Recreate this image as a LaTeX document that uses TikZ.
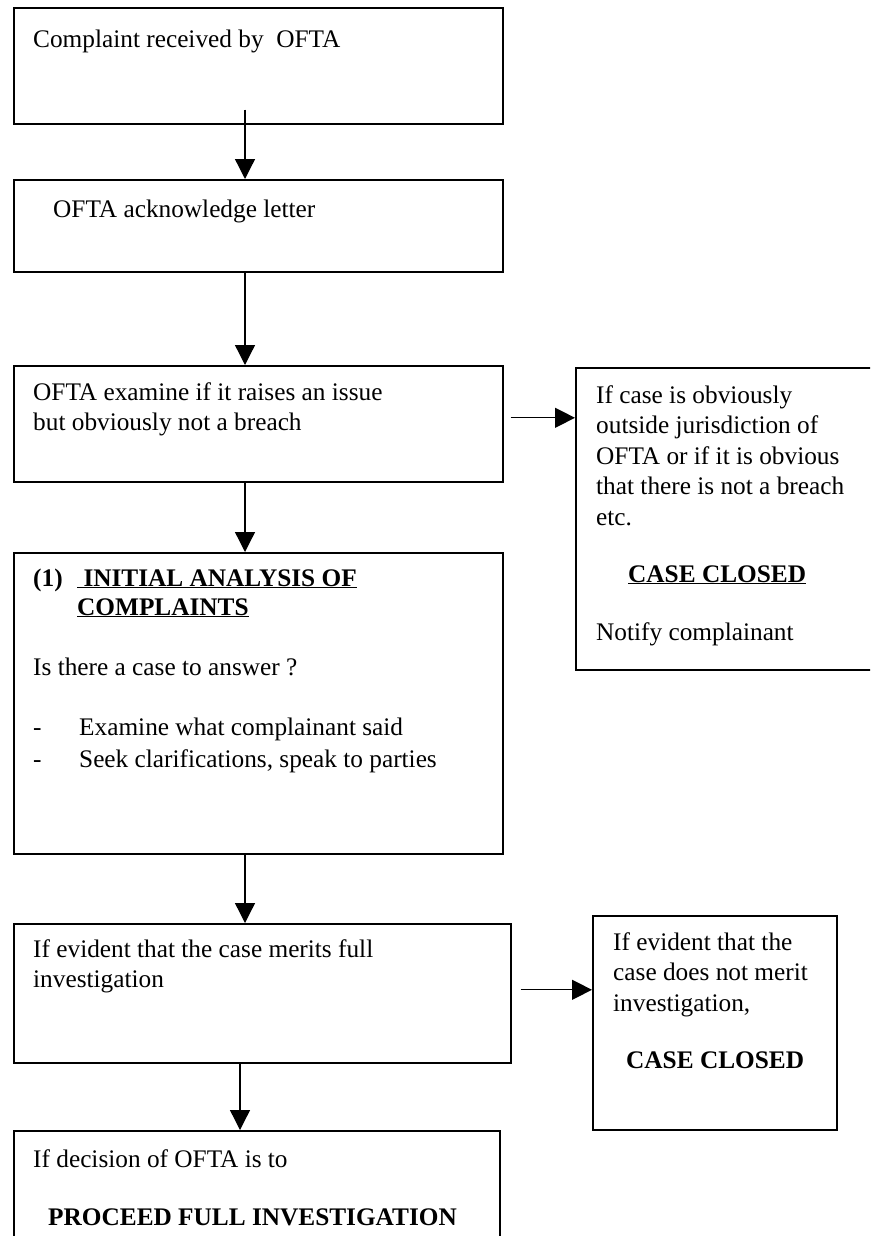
\documentclass[tikz,border=0pt]{standalone}
\usepackage{fontspec}
\setmainfont{Liberation Serif}
\usetikzlibrary{arrows.meta, positioning}

\newcommand{\lines}[1]{\begin{tabular}[t]{@{}l@{}}#1\end{tabular}}

\tikzset{
  box/.style={draw, line width=1.6pt, inner sep=0pt, anchor=north west},
  txt/.style={inner sep=0pt, anchor=base west},
  flow/.style={-{Triangle[length=20pt, width=20pt]}, line width=1.3pt},
}

\begin{document}
\begin{tikzpicture}[x=1pt, y=-1pt, font=\fontsize{25.3}{30.5}\selectfont]
    \clip (0,0) rectangle (870,1236);

    % Draw main column of boxes
    \node[box, minimum width=489pt, minimum height=116pt] (recv) at (13,7) {};
    \node[box, minimum width=489pt, minimum height=92pt] (ack) at (13,179) {};
    \node[box, minimum width=489pt, minimum height=116pt] (exam) at (13,365) {};
    \node[box, minimum width=489pt, minimum height=301pt] (anal) at (13,552) {};
    \node[box, minimum width=497pt, minimum height=139pt] (merit) at (13,923) {};
    \node[box, minimum width=486pt, minimum height=130pt] (decide) at (13,1130) {};

    % Draw side boxes
    \node[box, minimum width=300pt, minimum height=302pt] (outside) at (575,367) {};
    \node[box, minimum width=244pt, minimum height=214pt] (nomerit) at (592,915) {};

    % Texts
    \node[txt] (recvtxt) at (33,48) {Complaint received by\ \ OFTA};
    \node[txt] (acktxt) at (53,217) {OFTA acknowledge letter};
    \node[txt] (examtxt) at (33,400) {\lines{OFTA examine if it raises an issue\\but obviously not a breach}};
    \node[txt] (analnum) at (33,586) {\textbf{(1)}};
    \node[txt] (analhead) at (77,586) {\lines{\underline{\textbf{\ INITIAL ANALYSIS OF}}\\[-1.5pt]\underline{\textbf{COMPLAINTS}}}};
    \node[txt] (analq) at (33,675) {Is there a case to answer ?};
    \node[txt] (anallist) at (33,735) {\begin{tabular}[t]{@{}p{46pt}@{}l@{}}-&Examine what complainant said\\[1.5pt]-&Seek clarifications, speak to parties\end{tabular}};
    \node[txt] (outtxt) at (596,403) {\lines{If case is obviously\\outside jurisdiction of\\OFTA or if it is obvious\\that there is not a breach\\etc.}};
    \node[txt] (outclosed) at (628,582) {\underline{\textbf{CASE CLOSED}}};
    \node[txt] (outnote) at (596,640) {Notify complainant};
    \node[txt] (merittxt) at (33,957) {\lines{If evident that the case merits full\\investigation}};
    \node[txt] (decidetxt) at (33,1167) {If decision of OFTA is to};
    \node[txt] (decidebold) at (48,1225) {\textbf{PROCEED FULL INVESTIGATION}};
    \node[txt] (nomerittxt) at (613,950) {\lines{If evident that the\\case does not merit\\investigation,}};
    \node[txt] (nomeritclosed) at (626,1068) {\textbf{CASE CLOSED}};

    % Draw arrows down the column
    \draw[flow] ([xshift=232pt, yshift=15pt]recv.south west) -- ([xshift=232pt]ack.north west);
    \draw[flow] ([xshift=232pt]ack.south west) -- ([xshift=232pt]exam.north west);
    \draw[flow] ([xshift=232pt]exam.south west) -- ([xshift=232pt]anal.north west);
    \draw[flow] ([xshift=232pt]anal.south west) -- ([xshift=232pt]merit.north west);
    \draw[flow] ([xshift=227pt]merit.south west) -- ([xshift=227pt]decide.north west);

    % Draw arrows to the side boxes
    \draw[flow] ([xshift=7pt, yshift=6pt]exam.east) -- ([yshift=6pt]exam.east -| outside.west);
    \draw[flow] ([xshift=9pt, yshift=3.5pt]merit.east) -- ([yshift=3.5pt]merit.east -| nomerit.west);
\end{tikzpicture}
\end{document}
